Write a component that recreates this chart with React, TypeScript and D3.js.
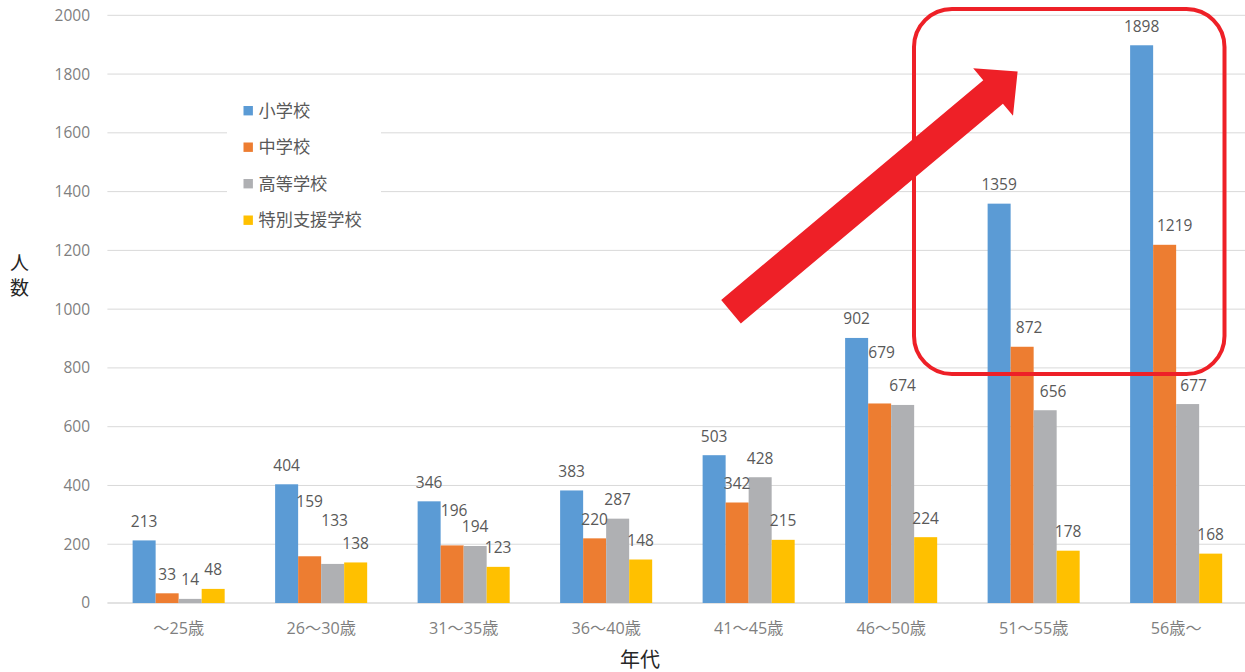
import { useMemo } from 'react'
import * as d3 from 'd3'

const categories = ['～25歳', '26～30歳', '31～35歳', '36～40歳', '41～45歳', '46～50歳', '51～55歳', '56歳～']
const seriesNames = ['小学校', '中学校', '高等学校', '特別支援学校']
const elementary = [213, 404, 346, 383, 503, 902, 1359, 1898]
const juniorHigh = [33, 159, 196, 220, 342, 679, 872, 1219]
const highSchool = [14, 133, 194, 287, 428, 674, 656, 677]
const special = [48, 138, 123, 148, 215, 224, 178, 168]
const yTicks = [0, 200, 400, 600, 800, 1000, 1200, 1400, 1600, 1800, 2000]

const COLORS = ['#5B9BD5', '#ED7D31', '#AFB0B3', '#FFC000']

const SIZE = { width: 1245, height: 672 }
const PLOT = { left: 107.4, right: 1247.4, top: 15.3, bottom: 603 }

// hand-moved data labels in the original (series-category -> [dx, dy])
const labelNudge: Record<string, [number, number]> = {
  '1-1': [0, -36],
  '2-1': [2, -24],
  '1-2': [2, -16],
  '1-5': [2, -32],
  '1-6': [7, 0],
  '2-6': [8, 0],
  '1-7': [10, 0],
  '2-7': [6, 0],
}

const NUM_FONT = "'Open Sans', 'Noto Sans CJK JP', sans-serif"
const CJK_FONT = "'Noto Sans CJK JP', sans-serif"

// block arrow in its own frame: tail at origin, pointing along +x
const ARROW_LEN = 374
const arrowPoints: [number, number][] = [
  [0, -15.3],
  [342, -15.3],
  [342, -31],
  [ARROW_LEN, 0],
  [342, 31],
  [342, 15.3],
  [0, 15.3],
]

export default function App() {
  const series = [elementary, juniorHigh, highSchool, special]

  const { x, xInner, y } = useMemo(() => {
    const x = d3
      .scaleBand<string>()
      .domain(categories)
      .range([PLOT.left, PLOT.right])
      .paddingInner(0.354)
      .paddingOuter(0.177)
    const xInner = d3
      .scaleBand<string>()
      .domain(seriesNames)
      .range([0, x.bandwidth()])
      .padding(0)
    const y = d3.scaleLinear().domain([0, 2000]).range([PLOT.bottom, PLOT.top])
    return { x, xInner, y }
  }, [])

  const arrowPath = d3.line()(arrowPoints) + 'Z'
  const tail = [731, 311.7]
  const angle = (Math.atan2(71.7 - 311.7, 1017.3 - 731) * 180) / Math.PI

  return (
    <svg
      width={SIZE.width}
      height={SIZE.height}
      viewBox={`0 0 ${SIZE.width} ${SIZE.height}`}
      style={{ position: 'absolute', left: 0, top: 0, background: '#fff' }}
    >
      {/* grid + y ticks */}
      {yTicks.map((t) => (
        <g key={t} transform={`translate(0 ${y(t)})`}>
          <line x1={PLOT.left} x2={SIZE.width} stroke="#D9D9D9" strokeWidth={t === 0 ? 1.5 : 1} />
          <text
            x={90}
            dy="0.35em"
            textAnchor="end"
            fontFamily={NUM_FONT}
            fontSize={15.5}
            fill="#7F7F7F"
          >
            {t}
          </text>
        </g>
      ))}

      {/* legend */}
      <g>
        <rect x={227} y={92} width={154} height={146} fill="#fff" />
        {seriesNames.map((name, i) => (
          <g key={name} transform={`translate(243.5 ${110.7 + i * 36.5})`}>
            <rect x={0} y={-4.7} width={9.4} height={9.4} fill={COLORS[i]} />
            <text x={15} dy="0.36em" fontFamily={CJK_FONT} fontSize={17.2} fill="#595959">
              {name}
            </text>
          </g>
        ))}
      </g>

      {/* bars */}
      {categories.map((cat, ci) => (
        <g key={cat} transform={`translate(${x(cat)} 0)`}>
          {series.map((values, si) => {
            const v = values[ci]
            return (
              <rect
                key={si}
                x={xInner(seriesNames[si])}
                y={y(v)}
                width={xInner.bandwidth()}
                height={y(0) - y(v)}
                fill={COLORS[si]}
              />
            )
          })}
        </g>
      ))}

      {/* data labels */}
      {categories.map((cat, ci) =>
        series.map((values, si) => {
          const v = values[ci]
          const [dx, dy] = labelNudge[`${si}-${ci}`] || [0, 0]
          const cx = (x(cat) || 0) + (xInner(seriesNames[si]) || 0) + xInner.bandwidth() / 2
          return (
            <text
              key={`${si}-${ci}`}
              x={cx + dx}
              y={y(v) - 13.5 + dy}
              textAnchor="middle"
              fontFamily={NUM_FONT}
              fontSize={15.5}
              fill="#595959"
            >
              {v}
            </text>
          )
        })
      )}

      {/* category labels */}
      {categories.map((cat) => (
        <text
          key={cat}
          x={(x(cat) || 0) + x.bandwidth() / 2}
          y={633.5}
          textAnchor="middle"
          fontFamily={NUM_FONT}
          fontSize={16.2}
          fill="#7F7F7F"
        >
          {cat}
        </text>
      ))}

      {/* axis titles */}
      <text fontFamily={CJK_FONT} fontSize={19} fill="#262626" textAnchor="middle">
        <tspan x={19.5} y={270}>人</tspan>
        <tspan x={19.5} y={295}>数</tspan>
      </text>
      <text x={640} y={667} fontFamily={CJK_FONT} fontSize={20} fill="#262626" textAnchor="middle">
        年代
      </text>

      {/* annotations */}
      <rect
        x={914}
        y={9}
        width={310.5}
        height={365}
        rx={38}
        fill="none"
        stroke="#EE2027"
        strokeWidth={4}
      />
      <path
        d={arrowPath}
        fill="#EE2027"
        transform={`translate(${tail[0]} ${tail[1]}) rotate(${angle})`}
      />
    </svg>
  )
}
